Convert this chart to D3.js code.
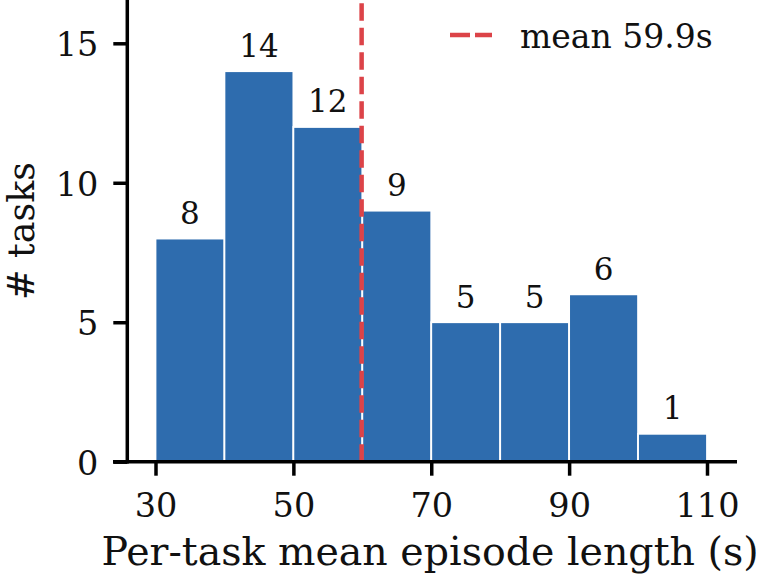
<!DOCTYPE html>
<html><head><meta charset="utf-8">
<script src="https://cdn.jsdelivr.net/npm/d3@7/dist/d3.min.js"></script>
<style>body{margin:0;background:#fff}svg{display:block}text{font-family:"DejaVu Serif",serif;fill:#111}</style>
</head><body><svg id="c" width="758" height="581"></svg>
<script>
const binStarts = [30, 40, 50, 60, 70, 80, 90, 100];
const binWidth = 10;
const counts = [8, 14, 12, 9, 5, 5, 6, 1];
const meanValue = 59.9;
const xTicks = [30, 50, 70, 90, 110];
const yTicks = [0, 5, 10, 15];
const xLabel = "Per-task mean episode length (s)";
const yLabel = "# tasks";
const legendLabel = "mean 59.9s";

const svg = d3.select("#c");
const x = d3.scaleLinear().domain([30, 110]).range([155.5, 707]);
const y = d3.scaleLinear().domain([0, 15]).range([461.7, 43.3]);
const blue = "#2e6cae", red = "#dc4348";
const FONT = "DejaVu Serif";

// bars
svg.append("g").selectAll("rect").data(counts).join("rect")
  .attr("x", (d, i) => x(binStarts[i]))
  .attr("width", (d, i) => x(binStarts[i] + binWidth) - x(binStarts[i]))
  .attr("y", d => y(d))
  .attr("height", d => y(0) - y(d))
  .attr("fill", blue).attr("stroke", "#fff").attr("stroke-width", 1.8);

// bar labels
svg.append("g").selectAll("text").data(counts).join("text")
  .attr("x", (d, i) => x(binStarts[i] + binWidth / 2))
  .attr("y", d => y(d) - 14.5)
  .attr("text-anchor", "middle").attr("font-size", 31)
  .text(d => d);

// mean line (drawn bottom to top like matplotlib)
svg.append("line").attr("x1", x(meanValue)).attr("x2", x(meanValue))
  .attr("y1", y(0)).attr("y2", 0)
  .attr("stroke", red).attr("stroke-width", 4.5).attr("stroke-dasharray", "17.5,7");

// axes
const xAxis = d3.axisBottom(x).tickValues(xTicks).tickSize(14);
const gx = svg.append("g").attr("transform", `translate(0,${y(0)})`).call(xAxis);
gx.select(".domain").remove();
gx.append("line").attr("x1", 113).attr("x2", 737).attr("stroke", "#000").attr("stroke-width", 3.5);
gx.selectAll(".tick line").attr("stroke", "#000").attr("stroke-width", 3.5);
gx.selectAll(".tick text").attr("font-size", 33.5).attr("font-family", FONT).attr("fill", "#111")
  .attr("dy", null).attr("y", 55.5);

const yAxis = d3.axisLeft(y).tickValues(yTicks).tickSize(14);
const gy = svg.append("g").attr("transform", "translate(127.3,0)").call(yAxis);
gy.select(".domain").remove();
gy.append("line").attr("y1", 0).attr("y2", y(0) + 1.7).attr("stroke", "#000").attr("stroke-width", 3.5);
gy.selectAll(".tick line").attr("stroke", "#000").attr("stroke-width", 3.5);
gy.selectAll(".tick text").attr("font-size", 33.5).attr("font-family", FONT).attr("fill", "#111")
  .attr("dy", null).attr("y", 12.5).attr("x", -29);

// axis labels
svg.append("text").attr("x", 430).attr("y", 565).attr("text-anchor", "middle")
  .attr("font-size", 39.5).text(xLabel);
svg.append("text").attr("transform", "translate(34,231) rotate(-90)")
  .attr("text-anchor", "middle").attr("font-size", 36.5).text(yLabel);

// legend
svg.append("line").attr("x1", 450).attr("x2", 492).attr("y1", 35).attr("y2", 35)
  .attr("stroke", red).attr("stroke-width", 4.5).attr("stroke-dasharray", "20,5");
svg.append("text").attr("x", 520).attr("y", 48).attr("font-size", 33).text(legendLabel);
</script></body></html>
